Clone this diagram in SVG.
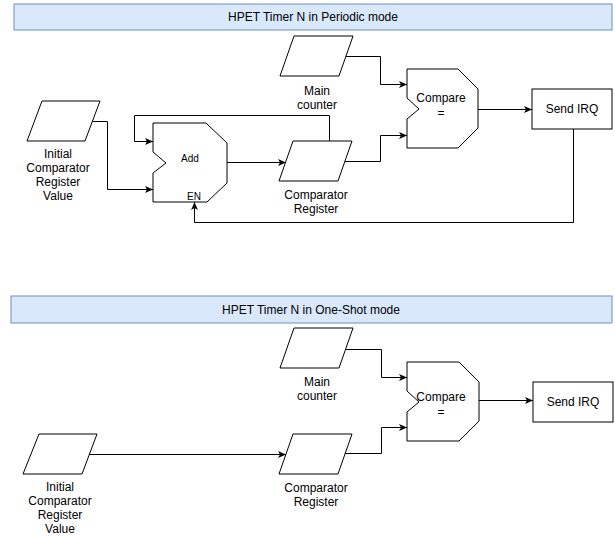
<svg xmlns="http://www.w3.org/2000/svg" width="615" height="537" viewBox="0 0 615 537">
  <style>
    .hdr { fill: #dae8fc; stroke: #6c8ebf; stroke-width: 1; }
    .shape { fill: #ffffff; stroke: #000000; stroke-width: 1; }
    .edge { fill: none; stroke: #000000; stroke-width: 1; }
    text { font-family: "Liberation Sans", Arial, Helvetica, sans-serif; font-size: 12px; fill: #000000; text-anchor: middle; dominant-baseline: central; }
    .small { font-size: 10px; }
  </style>
  <defs>
    <marker id="arrow" viewBox="0 0 8 8" refX="8" refY="4" markerWidth="8" markerHeight="8" markerUnits="userSpaceOnUse" orient="auto">
      <path d="M0,0.6 L8,4 L0,7.4 L2,4 Z" fill="#000000"/>
    </marker>
  </defs>

  <!-- ===== Periodic mode ===== -->
  <g id="header-periodic">
    <rect class="hdr" x="14" y="4" width="598" height="26"/>
    <text x="313" y="17">HPET Timer N in Periodic mode</text>
  </g>

  <g id="p-main-counter">
    <polygon class="shape" points="294,36 353,36 339,76 280,76"/>
    <text x="317" y="91">Main</text>
    <text x="317" y="105">counter</text>
  </g>

  <g id="p-initial">
    <polygon class="shape" points="42,101 100,101 85,141 27,141"/>
    <text x="58" y="154">Initial</text>
    <text x="58" y="168">Comparator</text>
    <text x="58" y="182">Register</text>
    <text x="58" y="196">Value</text>
  </g>

  <g id="p-add">
    <polygon class="shape" points="153,123 206,123 227,143 227,183 207,202 153,202 153,173 166,163 153,152"/>
    <text class="small" x="190" y="158">Add</text>
    <text class="small" x="194" y="196">EN</text>
  </g>

  <g id="p-comparator-register">
    <polygon class="shape" points="293,141 352,141 338,181 279,181"/>
    <text x="316" y="195">Comparator</text>
    <text x="316" y="209">Register</text>
  </g>

  <g id="p-compare">
    <polygon class="shape" points="407,69 458,69 478,89 478,128 458,148 407,148 407,119 419,109 407,98"/>
    <text x="441" y="98">Compare</text>
    <text x="441" y="113">=</text>
  </g>

  <g id="p-send-irq">
    <rect class="shape" x="532" y="89" width="80" height="40"/>
    <text x="572" y="109">Send IRQ</text>
  </g>

  <g id="p-connectors">
    <path class="edge" d="M92.5,121.5 H107.5 V189.5 H153" marker-end="url(#arrow)"/>
    <path class="edge" d="M329.5,141 V115.5 H134.5 V141.5 H153" marker-end="url(#arrow)"/>
    <path class="edge" d="M227,162.5 H286" marker-end="url(#arrow)"/>
    <path class="edge" d="M346,56.5 H380.5 V84.5 H407" marker-end="url(#arrow)"/>
    <path class="edge" d="M345,161.5 H380.5 V135.5 H407" marker-end="url(#arrow)"/>
    <path class="edge" d="M478,109.5 H532" marker-end="url(#arrow)"/>
    <path class="edge" d="M573.5,129 V222.5 H194.5 V202" marker-end="url(#arrow)"/>
  </g>

  <!-- ===== One-Shot mode ===== -->
  <g id="header-oneshot">
    <rect class="hdr" x="11" y="296" width="601" height="27"/>
    <text x="311" y="310">HPET Timer N in One-Shot mode</text>
  </g>

  <g id="o-main-counter">
    <polygon class="shape" points="294,328 353,328 339,368 280,368"/>
    <text x="317" y="382">Main</text>
    <text x="317" y="396">counter</text>
  </g>

  <g id="o-initial">
    <polygon class="shape" points="39,434 97,434 82,474 23,474"/>
    <text x="60" y="487">Initial</text>
    <text x="60" y="501">Comparator</text>
    <text x="60" y="515">Register</text>
    <text x="60" y="529">Value</text>
  </g>

  <g id="o-comparator-register">
    <polygon class="shape" points="293,434 352,434 338,474 279,474"/>
    <text x="316" y="488">Comparator</text>
    <text x="316" y="502">Register</text>
  </g>

  <g id="o-compare">
    <polygon class="shape" points="407,362 459,362 479,382 479,421 459,441 407,441 407,412 419,402 407,391"/>
    <text x="441" y="397">Compare</text>
    <text x="441" y="412">=</text>
  </g>

  <g id="o-send-irq">
    <rect class="shape" x="533" y="382" width="80" height="40"/>
    <text x="573" y="402">Send IRQ</text>
  </g>

  <g id="o-connectors">
    <path class="edge" d="M89.5,454.5 H286" marker-end="url(#arrow)"/>
    <path class="edge" d="M346,349.5 H381.5 V377.5 H407" marker-end="url(#arrow)"/>
    <path class="edge" d="M345,453.5 H381.5 V427.5 H407" marker-end="url(#arrow)"/>
    <path class="edge" d="M479,400.5 H533" marker-end="url(#arrow)"/>
  </g>
</svg>
